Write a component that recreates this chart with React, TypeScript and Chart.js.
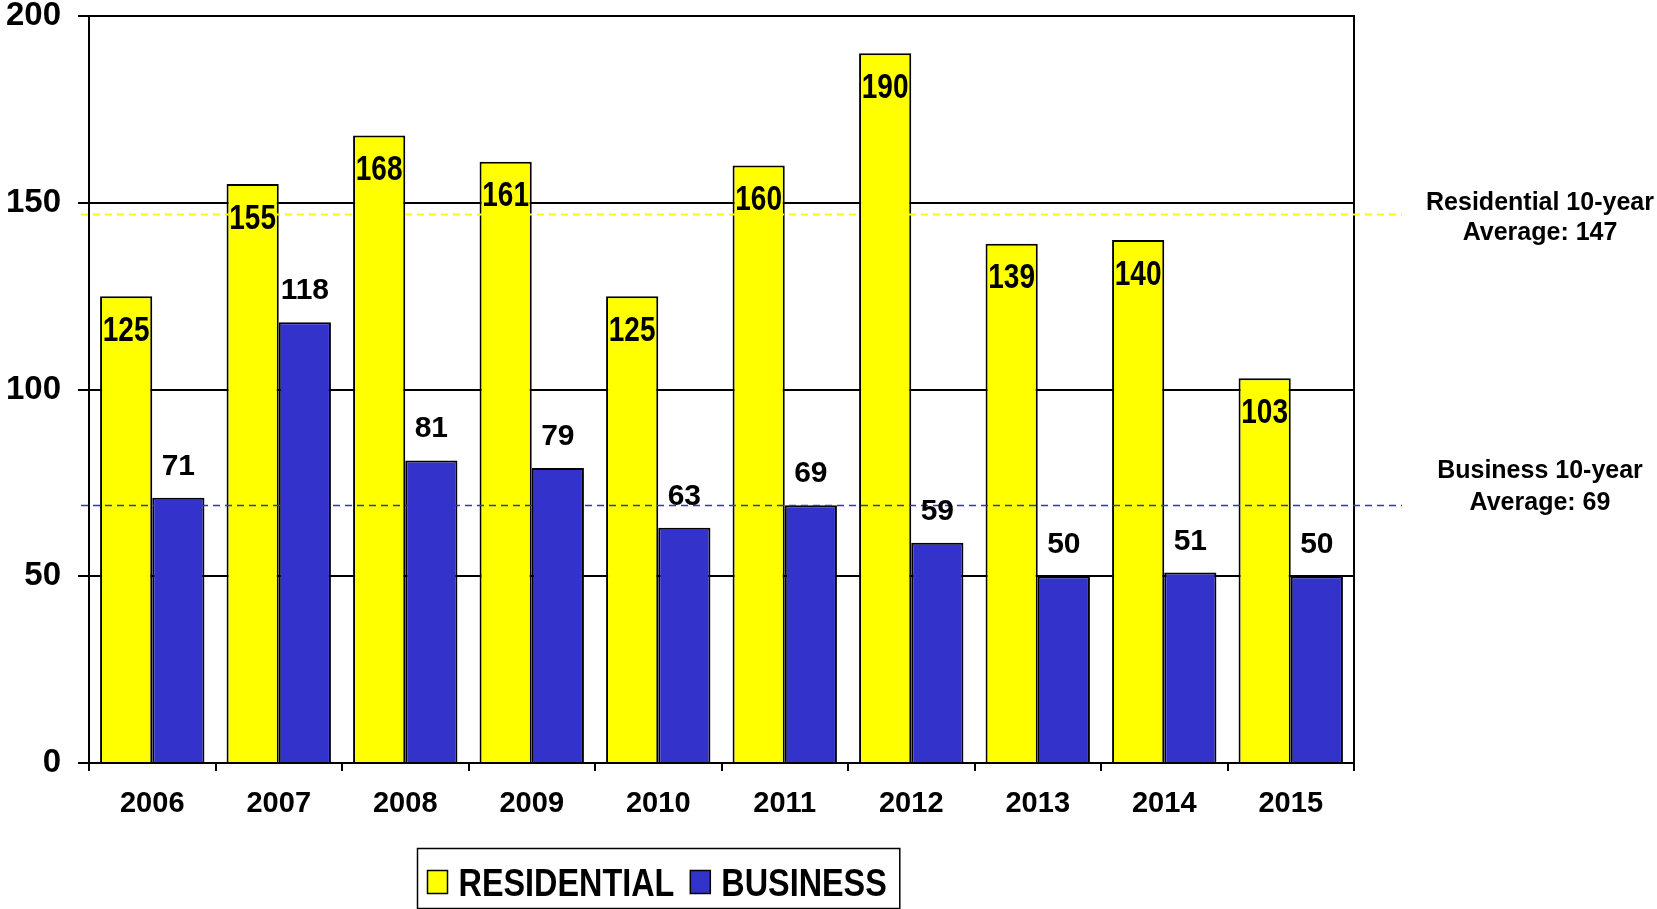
import React, { useEffect, useRef } from "react";
import { Chart, registerables } from "chart.js";

Chart.register(...registerables);

const years = ["2006", "2007", "2008", "2009", "2010", "2011", "2012", "2013", "2014", "2015"];
const residential = [125, 155, 168, 161, 125, 160, 190, 139, 140, 103];
const business = [71, 118, 81, 79, 63, 69, 59, 50, 51, 50];
const residentialAverage = 147;
const businessAverage = 69;
const legendLabels = ["RESIDENTIAL", "BUSINESS"];
const residentialNote = ["Residential 10-year", "Average: 147"];
const businessNote = ["Business 10-year", "Average: 69"];

const YELLOW = "#FFFF00";
const BLUE = "#3333CC";
const SANS = '"Liberation Sans", Arial, sans-serif';

// draw horizontally condensed text (the original uses a narrow face)
function narrowText(ctx: CanvasRenderingContext2D, text: string, x: number, y: number, sx: number, align: CanvasTextAlign) {
  ctx.save();
  ctx.translate(x, y);
  ctx.scale(sx, 1);
  ctx.textAlign = align;
  ctx.fillText(text, 0, 0);
  ctx.restore();
}

const overlay = {
  id: "overlay",
  afterDatasetsDraw(chart: any) {
    const { ctx, chartArea: a, scales } = chart;
    const y = scales.y;
    ctx.save();
    ctx.strokeStyle = "#000";
    ctx.lineWidth = 2;
    ctx.strokeRect(a.left, a.top, a.right - a.left, a.bottom - a.top);

    ctx.setLineDash([7, 5]);
    const lines: [number, string, number][] = [
      [residentialAverage, YELLOW, 2],
      [businessAverage, BLUE, 1.5],
    ];
    lines.forEach(([v, c, w]) => {
      const py = Math.round(y.getPixelForValue(v)) + 0.5;
      ctx.strokeStyle = c;
      ctx.lineWidth = w;
      ctx.beginPath();
      ctx.moveTo(a.left - 8, py);
      ctx.lineTo(a.right + 48, py);
      ctx.stroke();
    });
    ctx.restore();
  },
  afterDraw(chart: any) {
    const { ctx, chartArea: a, scales } = chart;
    const y = scales.y;
    ctx.save();
    ctx.fillStyle = "#000";
    ctx.textAlign = "center";
    ctx.textBaseline = "alphabetic";

    // data labels
    const m0 = chart.getDatasetMeta(0);
    ctx.font = `bold 35px ${SANS}`;
    m0.data.forEach((bar: any, i: number) => {
      narrowText(ctx, String(residential[i]), bar.x, bar.y + 44.5, 0.8, "center");
    });
    const m1 = chart.getDatasetMeta(1);
    ctx.font = `bold 30px ${SANS}`;
    m1.data.forEach((bar: any, i: number) => {
      ctx.fillText(String(business[i]), bar.x, bar.y - 23);
    });

    // average notes
    ctx.font = `bold 25px ${SANS}`;
    const nx = a.right + 186;
    const ry = y.getPixelForValue(residentialAverage);
    ctx.fillText(residentialNote[0], nx, ry - 4);
    ctx.fillText(residentialNote[1], nx, ry + 26);
    const by = y.getPixelForValue(businessAverage);
    ctx.fillText(businessNote[0], nx, by - 27);
    ctx.fillText(businessNote[1], nx, by + 5);

    // legend
    const sxL = 0.83;
    ctx.font = `bold 39px ${SANS}`;
    const w1 = ctx.measureText(legendLabels[0]).width * sxL;
    const w2 = ctx.measureText(legendLabels[1]).width * sxL;
    const sq = 20, sqH = 23, pad = 10, gap = 11, gapItems = 16, padR = 13;
    const boxW = pad + sq + gap + w1 + gapItems + sq + gap + w2 + padR;
    const boxH = 60;
    const cx = a.left + 569;
    const boxLeft = Math.round(cx - boxW / 2) + 0.5;
    const boxTop = Math.round(a.bottom + 85) + 0.5;
    ctx.strokeStyle = "#000";
    ctx.lineWidth = 1.5;
    ctx.strokeRect(boxLeft, boxTop, boxW, boxH);
    let x = boxLeft + pad;
    const items: [string, string, number][] = [
      [legendLabels[0], YELLOW, w1],
      [legendLabels[1], BLUE, w2],
    ];
    items.forEach(([label, color, w], i) => {
      ctx.fillStyle = color;
      ctx.fillRect(x, boxTop + 22, sq, sqH);
      ctx.strokeRect(x, boxTop + 22, sq, sqH);
      x += sq + gap;
      ctx.fillStyle = "#000";
      narrowText(ctx, label, x, boxTop + 47, sxL, "left");
      x += w + (i === 0 ? gapItems : 0);
    });
    ctx.restore();
  },
};

export default function App() {
  const ref = useRef<HTMLCanvasElement | null>(null);

  useEffect(() => {
    if (!ref.current) return;
    const chart = new Chart(ref.current, {
      type: "bar",
      data: {
        labels: years,
        datasets: [
          {
            label: legendLabels[0],
            data: residential,
            backgroundColor: YELLOW,
            borderColor: "#000",
            borderWidth: 2,
            categoryPercentage: 0.825,
            barPercentage: 1,
          },
          {
            label: legendLabels[1],
            data: business,
            backgroundColor: BLUE,
            borderColor: "#000",
            borderWidth: 2,
            categoryPercentage: 0.825,
            barPercentage: 1,
          },
        ],
      },
      options: {
        responsive: false,
        animation: false,
        devicePixelRatio: 1,
        layout: { padding: { top: 16, right: 303, bottom: 0, left: 0 } },
        plugins: {
          legend: { display: false },
          tooltip: { enabled: false },
          title: { display: false },
        },
        scales: {
          x: {
            grid: {
              display: true,
              drawOnChartArea: false,
              drawTicks: true,
              tickLength: 8,
              color: "#000",
              lineWidth: 2,
              offset: true,
            },
            border: { display: true, color: "#000", width: 2 },
            ticks: {
              color: "#000",
              font: { family: SANS, size: 29, weight: "bold", lineHeight: 1 },
              padding: 18,
              maxRotation: 0,
            },
            afterFit: (s: any) => {
              s.height = 146;
              s.paddingLeft = 0;
              s.paddingRight = 0;
            },
          },
          y: {
            min: 0,
            max: 200,
            ticks: {
              stepSize: 50,
              color: "#000",
              font: { family: SANS, size: 33, weight: "bold", lineHeight: 1 },
              padding: 17,
            },
            grid: { color: "#000", lineWidth: 2, tickLength: 11 },
            border: { display: true, color: "#000", width: 2 },
            afterFit: (s: any) => {
              s.width = 89;
              s.paddingTop = 0;
              s.paddingBottom = 0;
            },
          },
        },
      } as any,
      plugins: [overlay],
    });
    return () => chart.destroy();
  }, []);

  return (
    <div style={{ position: "absolute", left: 0, top: 0, width: 1657, height: 909, background: "#fff" }}>
      <canvas ref={ref} width={1657} height={909} />
    </div>
  );
}
